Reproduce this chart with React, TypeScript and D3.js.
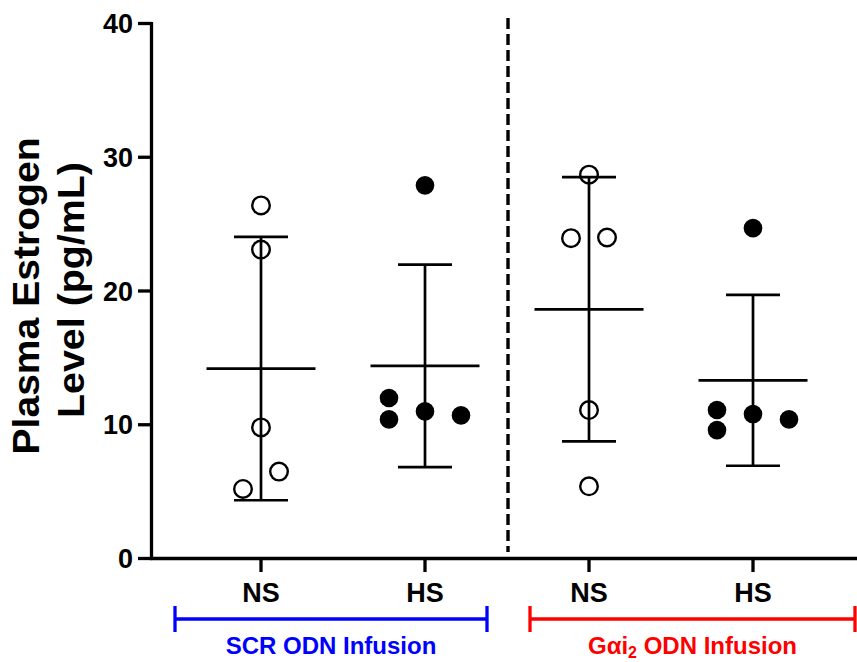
import React, { useEffect } from "react";
import * as d3 from "d3";

// ---- data ----
const categories = ["NS", "HS", "NS", "HS"];
const groupFilled = [false, true, false, true];
const values: number[][] = [
  [26.4, 23.1, 9.8, 6.5, 5.2],
  [27.9, 11.0, 12.0, 10.4, 10.7],
  [28.7, 11.1, 5.4, 23.95, 24.0],
  [24.7, 10.8, 11.1, 9.6, 10.4],
];
// horizontal scatter slot of each point (GraphPad column scatter)
const jitterSlots: number[][] = [
  [0, 0, 0, 1, -1],
  [0, 0, -2, -2, 2],
  [0, 0, 0, -1, 1],
  [0, 0, -2, -2, 2],
];
const yTicks = [0, 10, 20, 30, 40];
const infusionLabels = ["SCR ODN Infusion", "Gαi2 ODN Infusion"];

const W = 857;
const H = 662;
const FONT = "'Liberation Sans', Arial, Helvetica, sans-serif";

export default function App() {
  useEffect(() => {
    document.body.style.margin = "0";
  }, []);

  const y = d3.scaleLinear().domain([0, 40]).range([558.5, 23.5]);
  const x = d3
    .scalePoint<number>()
    .domain(categories.map((_, i) => i))
    .range([179, 835])
    .padding(0.5);
  const slotW = 18;
  const axisX = 151.5;
  const axisY = y(0);

  const stats = values.map((v) => {
    const m = d3.mean(v) as number;
    const sd = d3.deviation(v) as number;
    return { m, sd };
  });

  const dashX = (x(1)! + x(2)!) / 2 + 1;

  const brackets = [
    { x1: 175, x2: 487, color: "#0000ff", label: infusionLabels[0] },
    { x1: 530, x2: 855, color: "#ff0000", label: infusionLabels[1] },
  ];

  return (
    <svg width={W} height={H} style={{ display: "block", background: "#fff" }} fontFamily={FONT}>
      {/* Y axis label */}
      <text
        transform={`translate(39,296) rotate(-90)`}
        textAnchor="middle"
        fontSize={37}
        fontWeight="bold"
        textLength={317}
        lengthAdjust="spacingAndGlyphs"
      >
        Plasma Estrogen
      </text>
      <text
        transform={`translate(84,290) rotate(-90)`}
        textAnchor="middle"
        fontSize={37}
        fontWeight="bold"
        textLength={256}
        lengthAdjust="spacingAndGlyphs"
      >
        Level (pg/mL)
      </text>

      {/* Y axis */}
      <line x1={axisX} x2={axisX} y1={y(40) - 1.6} y2={axisY + 1.6} stroke="#000" strokeWidth={3.3} />
      {yTicks.map((t) => (
        <g key={t}>
          <line x1={138} x2={axisX} y1={y(t)} y2={y(t)} stroke="#000" strokeWidth={3.3} />
          <text x={133} y={y(t)} dy="0.36em" textAnchor="end" fontSize={27} fontWeight="bold">
            {t}
          </text>
        </g>
      ))}

      {/* X axis */}
      <line x1={axisX - 1.6} x2={W} y1={axisY} y2={axisY} stroke="#000" strokeWidth={3.3} />
      {categories.map((c, i) => (
        <g key={i}>
          <line x1={x(i)} x2={x(i)} y1={axisY} y2={572} stroke="#000" strokeWidth={3.3} />
          <text x={x(i)} y={602} textAnchor="middle" fontSize={27} fontWeight="bold">
            {c}
          </text>
        </g>
      ))}

      {/* dashed separator */}
      <line x1={dashX} x2={dashX} y1={18} y2={552} stroke="#000" strokeWidth={3.4} strokeDasharray="11,5" />

      {/* points */}
      {values.map((vals, gi) =>
        vals.map((v, pi) => (
          <circle
            key={`${gi}-${pi}`}
            cx={x(gi)! + jitterSlots[gi][pi] * slotW}
            cy={y(v)}
            r={groupFilled[gi] ? 9.3 : 8.8}
            fill={groupFilled[gi] ? "#000" : "none"}
            stroke="#000"
            strokeWidth={groupFilled[gi] ? 0 : 2.4}
          />
        ))
      )}

      {/* mean ± SD */}
      {stats.map((s, gi) => {
        const cx = x(gi)!;
        return (
          <g key={gi} stroke="#000" strokeWidth={2.7}>
            <line x1={cx} x2={cx} y1={y(s.m + s.sd)} y2={y(s.m - s.sd)} />
            <line x1={cx - 27} x2={cx + 27} y1={y(s.m + s.sd)} y2={y(s.m + s.sd)} />
            <line x1={cx - 27} x2={cx + 27} y1={y(s.m - s.sd)} y2={y(s.m - s.sd)} />
            <line x1={cx - 54.5} x2={cx + 54.5} y1={y(s.m)} y2={y(s.m)} />
          </g>
        );
      })}

      {/* infusion brackets */}
      {brackets.map((b, i) => (
        <g key={i} stroke={b.color} strokeWidth={3.3}>
          <line x1={b.x1} x2={b.x2} y1={619} y2={619} />
          <line x1={b.x1} x2={b.x1} y1={606} y2={632} />
          <line x1={b.x2} x2={b.x2} y1={606} y2={632} />
          <text
            x={(b.x1 + b.x2) / 2}
            y={654}
            textAnchor="middle"
            fontSize={24}
            fontWeight="bold"
            fill={b.color}
            stroke="none"
          >
            {i === 1 ? (
              <>
                <tspan>Gαi</tspan>
                <tspan fontSize={16} dy={4}>2</tspan>
                <tspan dy={-4}> ODN Infusion</tspan>
              </>
            ) : (
              b.label
            )}
          </text>
        </g>
      ))}
    </svg>
  );
}
